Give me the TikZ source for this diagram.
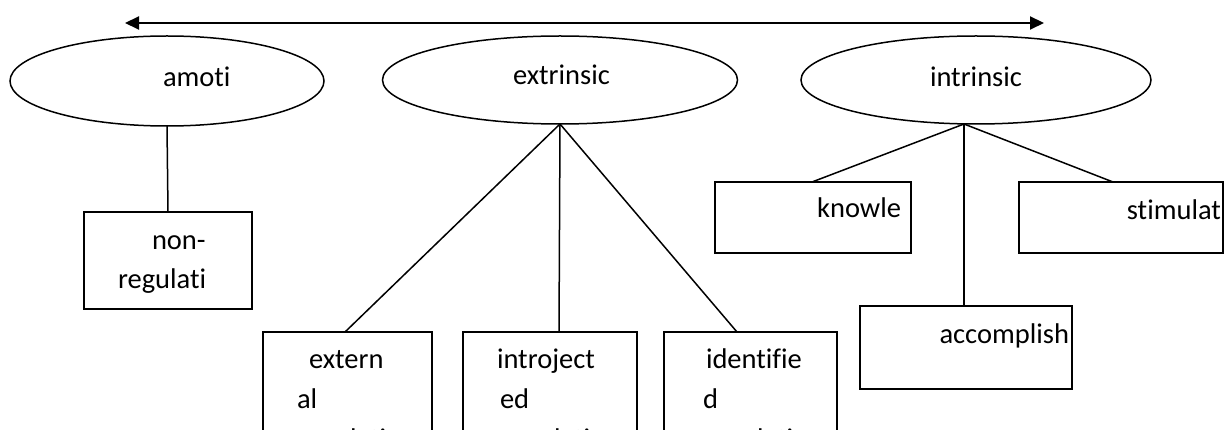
\documentclass[tikz,border=0pt]{standalone}
\usepackage{fontspec}
\setmainfont{Carlito}[Ligatures={NoCommon}]
\usetikzlibrary{arrows.meta,shapes.geometric}
\tikzset{
  oval/.style={draw, ellipse, line width=1.5pt, inner sep=0pt, outer sep=0pt},
  boxnode/.style={draw, rectangle, line width=1.5pt, inner sep=0pt, outer sep=0pt},
  txt/.style={inner sep=0pt, outer sep=0pt, font=\fontsize{28.5}{34}\selectfont},
  conn/.style={line width=1.5pt},
  bothway/.style={line width=2pt, {Triangle[length=14pt,width=13pt]}-{Triangle[length=14pt,width=13pt]}}
}
\begin{document}
\begin{tikzpicture}[x=1pt,y=-1pt]
\fill[white] (0,0) rectangle (1225,430);
\clip (0,0) rectangle (1225,430);
% arrow
\coordinate (L) at (125,23);
\coordinate (R) at (1044,23);
\draw[bothway] (L) -- (R);
% ellipses
\node[oval, minimum width=314pt, minimum height=90pt] (amoti) at (167,81) {};
\node[oval, minimum width=355pt, minimum height=88pt] (extr) at (560,80) {};
\node[oval, minimum width=350pt, minimum height=88pt] (intr) at (976,80) {};
\node[txt, anchor=base west] (tamoti) at (163,87) {amoti};
\node[txt, anchor=base west] (textr) at (513,85) {extrinsic};
\node[txt, anchor=base west] (tintr) at (930,87) {intrinsic};
% boxes
\node[boxnode, minimum width=168pt, minimum height=97pt] (nonreg) at (168,260.5) {};
\node[boxnode, minimum width=169pt, minimum height=148pt] (extern) at (347.5,406) {};
\node[boxnode, minimum width=174pt, minimum height=148pt] (introj) at (550,406) {};
\node[boxnode, minimum width=173pt, minimum height=148pt] (ident) at (750.5,406) {};
\node[boxnode, minimum width=196pt, minimum height=71pt] (knowle) at (813,217.5) {};
\node[boxnode, minimum width=204pt, minimum height=71pt] (stim) at (1121,217.5) {};
\node[boxnode, minimum width=212pt, minimum height=83pt] (accomp) at (966,347.5) {};
% box texts
\node[txt, anchor=base west] (t1a) at (152,250) {non-};
\node[txt, anchor=base west] (t1b) at (118,288) {regulati};
\node[txt, anchor=base west] (t2a) at (309,368) {extern};
\node[txt, anchor=base west] (t2b) at (297,408) {al};
\node[txt, anchor=base west] (t2c) at (298,448) {regulation};
\node[txt, anchor=base west] (t3a) at (497,368) {introject};
\node[txt, anchor=base west] (t3b) at (500,408) {ed};
\node[txt, anchor=base west] (t3c) at (502,448) {regulation};
\node[txt, anchor=base west] (t4a) at (706,368) {identifie};
\node[txt, anchor=base west] (t4b) at (703,408) {d};
\node[txt, anchor=base west] (t4c) at (705,448) {regulation};
\node[txt, anchor=base east] (t5) at (901,218) {knowle};
\node[txt, anchor=base east] (t6) at (1221,220) {stimulat};
\node[txt, anchor=base east] (t7) at (1069,343) {accomplish};
% connectors
\draw[conn] (amoti.south) -- (nonreg.north);
\draw[conn] (extr.south) -- ([xshift=-2.5pt]extern.north);
\draw[conn] (extr.south) -- ([xshift=9pt]introj.north);
\draw[conn] (extr.south) -- ([xshift=-13.5pt]ident.north);
\coordinate (ib) at ([xshift=-12pt]intr.south);
\draw[conn] (ib) -- ([xshift=-1pt]knowle.north);
\draw[conn] (ib) -- ([xshift=-8pt]stim.north);
\draw[conn] (ib) -- ([xshift=-2pt]accomp.north);
\end{tikzpicture}
\end{document}
